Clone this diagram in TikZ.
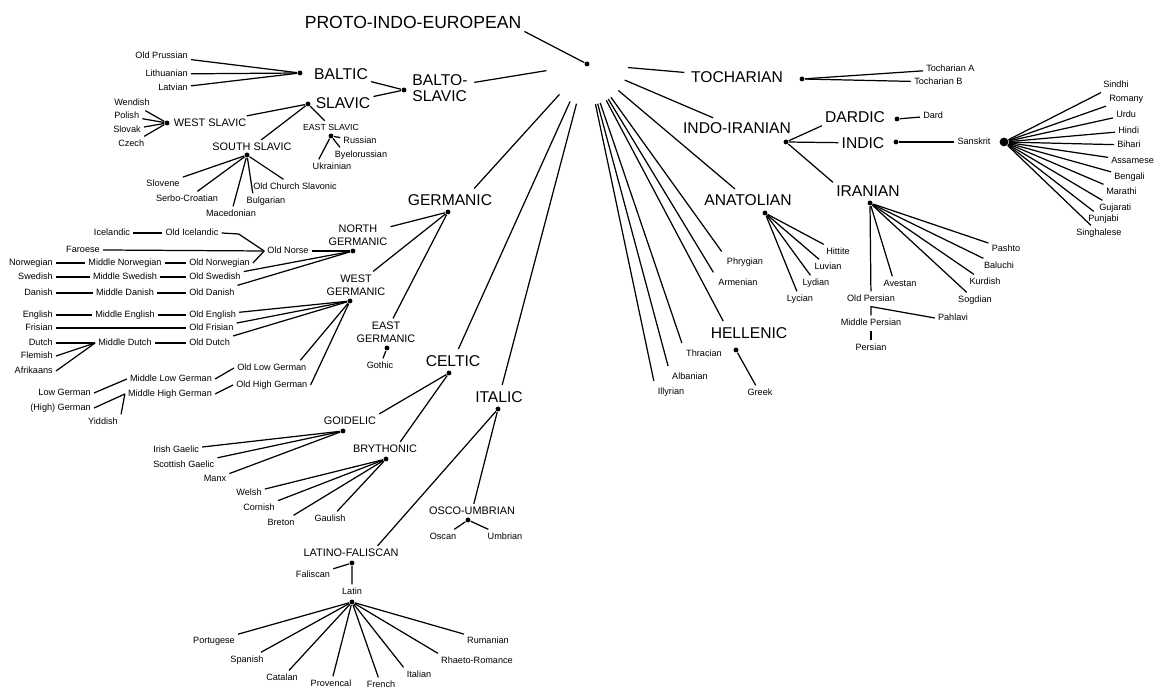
\documentclass[tikz,border=0pt]{standalone}
\usepackage{fontspec}
\setmainfont{Liberation Sans}

\tikzset{
  big/.style={font=\fontsize{8.9}{9.2}\selectfont, inner sep=1.5pt},
  mid/.style={font=\fontsize{6.2}{7.4}\selectfont, inner sep=1.5pt},
  lang/.style={font=\fontsize{5.2}{6}\selectfont, inner sep=1.5pt, text height=3.9pt, text depth=1.1pt},
  hub/.style={circle, fill=black, inner sep=0pt, minimum size=2.8pt},
  rootline/.style={shorten <=0.76cm, shorten >=2pt},
}

\begin{document}
\begin{tikzpicture}[x=0.02cm, y=-0.02cm, line width=0.7pt]
  \fill[white] (0,0) rectangle (1154,688);
  \useasboundingbox (0,0) rectangle (1154,688);

  % root
  \node[hub] (pie) at (587,64) {};
  \node[font=\fontsize{10}{12}\selectfont, inner sep=1.5pt] (pietxt) at (413,22) {PROTO-INDO-EUROPEAN};
  \draw (pietxt.south east) -- (pie);

  % balto-slavic
  \node[big, align=left] (baltoslavic) at (440,88) {BALTO-\\SLAVIC};
  \node[hub] (bsdot) at (404,90) {};
  \node[big] (baltic) at (341,74) {BALTIC};
  \node[hub] (baldot) at (300,73) {};
  \node[big] (slavic) at (343,103) {SLAVIC};
  \node[hub] (slavdot) at (308,104) {};
  \node[lang, anchor=east] (oldprussian) at (191,56) {Old Prussian};
  \node[lang, anchor=east] (lithuanian) at (191,74) {Lithuanian};
  \node[lang, anchor=east] (latvian) at (191,88) {Latvian};
  \node[mid] (westslavic) at (210,123) {WEST SLAVIC};
  \node[hub] (wsdot) at (167,123) {};
  \node[lang, anchor=west] (wendish) at (111,103) {Wendish};
  \node[lang, anchor=west] (polish) at (111,116) {Polish};
  \node[lang, anchor=west] (slovak) at (110,130) {Slovak};
  \node[lang, anchor=west] (czech) at (115,144) {Czech};
  \node[mid, font=\fontsize{5}{6}\selectfont] (eastslavic) at (331,127) {EAST SLAVIC};
  \node[hub] (esdot) at (331,136) {};
  \node[lang] (russian) at (360,141) {Russian};
  \node[lang] (byelorussian) at (361,155) {Byelorussian};
  \node[lang] (ukrainian) at (332,167) {Ukrainian};
  \node[mid] (southslavic) at (252,147) {SOUTH SLAVIC};
  \node[hub] (ssdot) at (247,155) {};
  \node[lang] (slovene) at (163,184) {Slovene};
  \node[lang] (serbocroatian) at (187,199) {Serbo-Croatian};
  \node[lang] (macedonian) at (231,214) {Macedonian};
  \node[lang] (bulgarian) at (266,201) {Bulgarian};
  \node[lang] (ocslavonic) at (295,187) {Old Church Slavonic};

  \foreach \l in {oldprussian,lithuanian,latvian} \draw (\l) -- (baldot);
  \foreach \l in {wendish,polish,slovak,czech} \draw (\l) -- (wsdot);
  \foreach \l in {slovene,serbocroatian,macedonian,bulgarian.150,ocslavonic} \draw (ssdot) -- (\l);
  \foreach \l in {russian,byelorussian.160,ukrainian.150} \draw (esdot) -- (\l);
  \draw (baltic) -- (bsdot) -- (slavic);
  \draw (westslavic) -- (slavdot) -- (southslavic);
  \draw (slavdot) -- (eastslavic);

  % germanic
  \node[big] (germanic) at (450,200) {GERMANIC};
  \node[hub] (gerdot) at (448,212) {};
  \node[mid, align=center] (northgerm) at (358,235) {NORTH\\GERMANIC};
  \node[hub] (ngdot) at (353,251) {};
  \node[mid, align=center] (westgerm) at (356,285) {WEST\\GERMANIC};
  \node[hub] (wgdot) at (350,301) {};
  \node[mid, align=center] (eastgerm) at (386,332) {EAST\\GERMANIC};
  \node[hub] (egdot) at (387,348) {};
  \node[lang] (gothic) at (380,366) {Gothic};

  \node[lang] (icelandic) at (112,233) {Icelandic};
  \node[lang] (oldicelandic) at (192,233) {Old Icelandic};
  \node[lang] (faroese) at (83,250) {Faroese};
  \node[lang] (oldnorse) at (288,251) {Old Norse};
  \node[lang, anchor=east] (norwegian) at (56,263) {Norwegian};
  \node[lang] (midnorwegian) at (125,263) {Middle Norwegian};
  \node[lang, anchor=west] (oldnorwegian) at (186,263) {Old Norwegian};
  \node[lang, anchor=east] (swedish) at (56,277) {Swedish};
  \node[lang] (midswedish) at (125,277) {Middle Swedish};
  \node[lang, anchor=west] (oldswedish) at (186,277) {Old Swedish};
  \node[lang, anchor=east] (danish) at (56,293) {Danish};
  \node[lang] (middanish) at (125,293) {Middle Danish};
  \node[lang, anchor=west] (olddanish) at (186,293) {Old Danish};
  \node[lang, anchor=east] (english) at (56,315) {English};
  \node[lang] (midenglish) at (125,315) {Middle English};
  \node[lang, anchor=west] (oldenglish) at (186,315) {Old English};
  \node[lang, anchor=east] (frisian) at (56,328) {Frisian};
  \node[lang, anchor=west] (oldfrisian) at (186,328) {Old Frisian};
  \node[lang, anchor=east] (dutch) at (56,343) {Dutch};
  \node[lang, anchor=east] (flemish) at (56,356) {Flemish};
  \node[lang, anchor=east] (afrikaans) at (56,371) {Afrikaans};
  \node[lang] (middutch) at (125,343) {Middle Dutch};
  \node[lang, anchor=west] (olddutch) at (186,343) {Old Dutch};
  \node[lang, anchor=west] (oldlowgerman) at (234,368) {Old Low German};
  \node[lang, anchor=west] (oldhighgerman) at (233,385) {Old High German};
  \node[lang] (midlowgerman) at (171,379) {Middle Low German};
  \node[lang] (midhighgerman) at (170,394) {Middle High German};
  \node[lang, anchor=east] (lowgerman) at (94,393) {Low German};
  \node[lang, anchor=east] (highgerman) at (94,408) {(High) German};
  \node[lang] (yiddish) at (103,422) {Yiddish};

  \foreach \g in {northgerm,westgerm,eastgerm} \draw (gerdot) -- (\g);
  \draw (egdot) -- (gothic);
  \draw (icelandic) -- (oldicelandic);
  \draw (oldicelandic.east) -- ++(17,1) -- (oldnorse.west);
  \draw (faroese.east) -- (oldnorse.west);
  \draw (oldnorwegian.east) -- (oldnorse.west);
  \draw (norwegian) -- (midnorwegian) -- (oldnorwegian);
  \draw (swedish) -- (midswedish) -- (oldswedish);
  \draw (danish) -- (middanish) -- (olddanish);
  \foreach \l in {oldnorse,oldswedish,olddanish} \draw (\l) -- (ngdot);
  \draw (english) -- (midenglish) -- (oldenglish);
  \draw (frisian) -- (oldfrisian);
  \draw (middutch) -- (olddutch);
  \foreach \l in {dutch,flemish,afrikaans} \draw (\l.east) -- (middutch.west);
  \foreach \l in {oldenglish,oldfrisian,olddutch,oldlowgerman.15,oldhighgerman.east} \draw (\l) -- (wgdot);
  \draw (midlowgerman.east) -- (oldlowgerman.west);
  \draw (midhighgerman.east) -- (oldhighgerman.west);
  \draw (lowgerman.east) -- (midlowgerman.west);
  \draw (highgerman.east) -- (midhighgerman.west);
  \draw (yiddish.north east) -- (midhighgerman.west);

  % celtic
  \node[big] (celtic) at (453,361) {CELTIC};
  \node[hub] (celdot) at (449,373) {};
  \node[mid] (goidelic) at (350,421) {GOIDELIC};
  \node[hub] (goidot) at (343,431) {};
  \node[mid] (brythonic) at (385,449) {BRYTHONIC};
  \node[hub] (brydot) at (386,459) {};
  \node[lang, anchor=west] (irish) at (150,450) {Irish Gaelic};
  \node[lang, anchor=west] (scottish) at (150,465) {Scottish Gaelic};
  \node[lang] (manx) at (215,479) {Manx};
  \node[lang] (welsh) at (249,493) {Welsh};
  \node[lang] (cornish) at (259,508) {Cornish};
  \node[lang] (breton) at (281,523) {Breton};
  \node[lang] (gaulish) at (330,519) {Gaulish};

  \draw (celdot) -- (goidelic.north east);
  \draw (celdot) -- (brythonic.25);
  \foreach \l in {irish,scottish,manx} \draw (goidot) -- (\l);
  \foreach \l in {welsh,cornish,breton,gaulish} \draw (brydot) -- (\l);

  % italic
  \node[big] (italic) at (499,397) {ITALIC};
  \node[hub] (itdot) at (498,409) {};
  \node[mid] (oscoumbrian) at (472,511) {OSCO-UMBRIAN};
  \node[hub] (oudot) at (468,520) {};
  \node[lang] (oscan) at (443,537) {Oscan};
  \node[lang] (umbrian) at (505,537) {Umbrian};
  \node[mid] (latinofaliscan) at (351,553) {LATINO-FALISCAN};
  \node[hub] (lfdot) at (352,563) {};
  \node[lang] (faliscan) at (313,575) {Faliscan};
  \node[lang] (latin) at (352,592) {Latin};
  \node[hub] (latdot) at (352,602) {};
  \node[lang] (portugese) at (214,641) {Portugese};
  \node[lang] (spanish) at (247,660) {Spanish};
  \node[lang] (catalan) at (282,678) {Catalan};
  \node[lang] (provencal) at (331,684) {Provencal};
  \node[lang] (french) at (381,685) {French};
  \node[lang] (italian) at (419,675) {Italian};
  \node[lang] (rhaeto) at (477,661) {Rhaeto-Romance};
  \node[lang] (rumanian) at (488,641) {Rumanian};

  \draw (itdot) -- (oscoumbrian);
  \draw (itdot) -- (latinofaliscan.15);
  \foreach \l in {oscan,umbrian} \draw (oudot) -- (\l);
  \draw (faliscan) -- (lfdot) -- (latin);
  \foreach \l in {portugese,spanish,catalan,provencal,french,italian.north west,rhaeto.north west,rumanian}
    \draw (latdot) -- (\l);

  % tocharian, indo-iranian
  \node[big] (tocharian) at (737,77) {TOCHARIAN};
  \node[hub] (tochdot) at (802,79) {};
  \node[lang, anchor=west] (tochA) at (923,69) {Tocharian A};
  \node[lang, anchor=west] (tochB) at (911,82) {Tocharian B};
  \node[big] (indoiranian) at (737,128) {INDO-IRANIAN};
  \node[hub] (iidot) at (786,142) {};
  \node[big] (dardic) at (855,117) {DARDIC};
  \node[hub] (darddot) at (897,119) {};
  \node[lang, anchor=west] (dard) at (920,116) {Dard};
  \node[big] (indic) at (863,143) {INDIC};
  \node[hub] (indicdot) at (896,142) {};
  \node[lang] (sanskrit) at (974,142) {Sanskrit};
  \node[hub, minimum size=5pt] (skdot) at (1004,142) {};
  \node[lang, anchor=west] (sindhi) at (1100,85) {Sindhi};
  \node[lang, anchor=west] (romany) at (1106,99) {Romany};
  \node[lang, anchor=west] (urdu) at (1113,115) {Urdu};
  \node[lang, anchor=west] (hindi) at (1115,131) {Hindi};
  \node[lang, anchor=west] (bihari) at (1114,145) {Bihari};
  \node[lang, anchor=west] (assamese) at (1108,161) {Assamese};
  \node[lang, anchor=west] (bengali) at (1111,177) {Bengali};
  \node[lang, anchor=west] (marathi) at (1103,192) {Marathi};
  \node[lang, anchor=west] (gujarati) at (1096,208) {Gujarati};
  \node[lang, anchor=west] (punjabi) at (1085,219) {Punjabi};
  \node[lang, anchor=west] (singhalese) at (1073,233) {Singhalese};
  \node[big] (iranian) at (868,191) {IRANIAN};
  \node[hub] (irdot) at (870,203) {};
  \node[lang] (pashto) at (1006,249) {Pashto};
  \node[lang] (baluchi) at (999,266) {Baluchi};
  \node[lang] (kurdish) at (985,282) {Kurdish};
  \node[lang] (sogdian) at (975,300) {Sogdian};
  \node[lang] (avestan) at (900,284) {Avestan};
  \node[lang] (oldpersian) at (871,299) {Old Persian};
  \node[lang] (midpersian) at (871,323) {Middle Persian};
  \node[lang] (persian) at (871,348) {Persian};
  \node[lang] (pahlavi) at (953,318) {Pahlavi};

  \foreach \l in {tochA,tochB} \draw (tochdot) -- (\l);
  \draw (iidot) -- (dardic.south west);
  \draw (iidot) -- (indic);
  \draw (iidot) -- (iranian.north west);
  \draw (darddot) -- (dard);
  \draw (indicdot) -- (sanskrit);
  \foreach \l in {sindhi,romany,urdu,hindi,bihari,assamese,bengali,marathi,gujarati,punjabi,singhalese}
    \draw (skdot) -- (\l);
  \foreach \l in {pashto,baluchi,kurdish,sogdian,avestan.135,oldpersian} \draw (irdot) -- (\l);
  \draw (midpersian) -- (oldpersian.south -| midpersian) -- (pahlavi.west);
  \draw (midpersian) -- (persian);

  % anatolian, hellenic and the rest
  \node[big] (anatolian) at (748,200) {ANATOLIAN};
  \node[hub] (anadot) at (765,213) {};
  \node[lang] (hittite) at (838,252) {Hittite};
  \node[lang] (luvian) at (828,267) {Luvian};
  \node[lang] (lydian) at (816,283) {Lydian};
  \node[lang] (lycian) at (800,299) {Lycian};
  \node[big] (hellenic) at (749,333) {HELLENIC};
  \node[hub] (heldot) at (736,350) {};
  \node[lang] (greek) at (760,393) {Greek};
  \node[lang] (phrygian) at (745,262) {Phrygian};
  \node[lang] (armenian) at (738,283) {Armenian};
  \node[lang] (thracian) at (704,354) {Thracian};
  \node[lang] (albanian) at (690,377) {Albanian};
  \node[lang] (illyrian) at (671,392) {Illyrian};

  \foreach \l in {hittite,luvian,lydian,lycian} \draw (anadot) -- (\l);
  \draw (heldot) -- (greek);

  % branches out of the root
  \foreach \b in {baltoslavic,germanic.22,celtic,italic,tocharian,indoiranian,anatolian,hellenic.160,phrygian.north west,armenian.north west,thracian.north west,albanian.north west,illyrian.north west}
    \draw[rootline] (pie) -- (\b);
\end{tikzpicture}
\end{document}
